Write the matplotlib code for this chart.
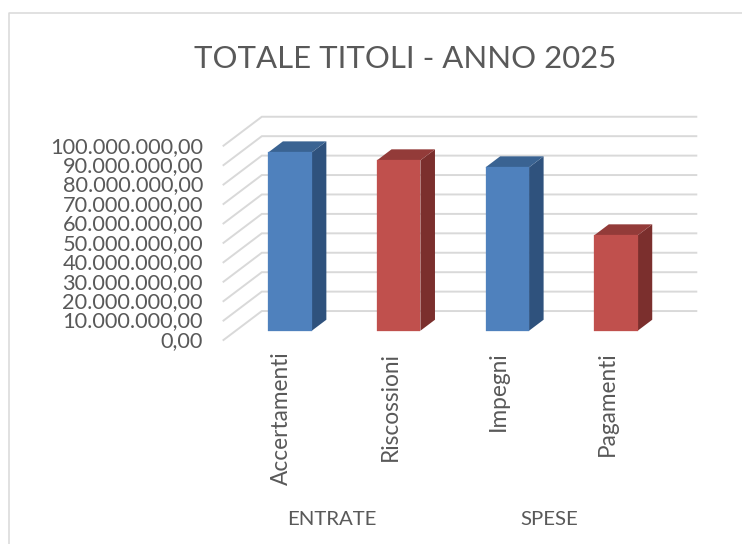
import matplotlib
matplotlib.use('Agg')
import matplotlib.pyplot as plt
from matplotlib.lines import Line2D
from matplotlib.ticker import FuncFormatter
from matplotlib.transforms import ScaledTranslation

plt.rcParams['font.family'] = ['Lato', 'DejaVu Sans']

# Data
categories = ['Accertamenti', 'Riscossioni', 'Impegni', 'Pagamenti']
values = [91800000, 87700000, 84100000, 49100000]
groups = ['ENTRATE', 'SPESE']
y_ticks = [0, 10000000, 20000000, 30000000, 40000000, 50000000,
           60000000, 70000000, 80000000, 90000000, 100000000]
title = 'TOTALE TITOLI - ANNO 2025'

# Colours: front, side, top
blue = ('#4F81BD', '#2F527D', '#3A6392')
red = ('#C0504D', '#7B2F2D', '#933B39')
bar_colors = [blue, red, blue, red]
text_color = '#595959'
grid_color = '#D9D9D9'

W, H = 742, 544

# 3D look: how far the back wall is shifted from the front plane (data units)
DEPTH_X = 0.3527
DEPTH_Y = 14900000
BAR_WIDTH = 0.4
BAR_FRONT = 0.32
BAR_BACK = 0.70


def shift(x, y, d):
    return x + d * DEPTH_X, y + d * DEPTH_Y


fig = plt.figure(figsize=(W / 100, H / 100), dpi=100)
ax = fig.add_axes([223.5 / W, (H - 340) / H, 434.5 / W, 194.3 / H])
ax.set_xlim(0, len(categories))
ax.set_ylim(0, 100000000)
for s in ax.spines.values():
    s.set_visible(False)
ax.patch.set_alpha(0)

# Chart border, runs off the right and bottom of the picture
fig.add_artist(Line2D([W + 5, 9, 9], [H - 13, H - 13, -5], transform=None,
                      color=grid_color, lw=1.1))

# Walls
for v in y_ticks:
    xb, yb = shift(0, v, 1)
    ax.plot([0, xb, len(categories) + DEPTH_X], [v, yb, yb], color=grid_color,
            lw=1.4, clip_on=False, zorder=1, solid_joinstyle='miter')

# Bars
for i, v in enumerate(values):
    front, side, top = bar_colors[i]
    x0 = i + 0.5 - BAR_WIDTH / 2
    x1 = i + 0.5 + BAR_WIDTH / 2
    a = shift(x0, 0, BAR_FRONT)
    b = shift(x1, 0, BAR_FRONT)
    c = shift(x1, v, BAR_FRONT)
    d = shift(x0, v, BAR_FRONT)
    e = shift(x1, 0, BAR_BACK)
    f = shift(x1, v, BAR_BACK)
    g = shift(x0, v, BAR_BACK)
    ax.fill(*zip(b, e, f, c), color=side, lw=0, clip_on=False, zorder=3)
    ax.fill(*zip(d, c, f, g), color=top, lw=0, clip_on=False, zorder=3)
    ax.fill(*zip(a, b, c, d), facecolor=front, edgecolor=front, lw=0.2,
            clip_on=False, zorder=4)

# Axis labels
ax.set_yticks(y_ticks)
ax.yaxis.set_major_formatter(FuncFormatter(
    lambda v, p: f'{v:,.2f}'.replace(',', 'X').replace('.', ',').replace('X', '.')))
ax.tick_params(axis='y', length=0, pad=14.8, labelsize=15.7, labelcolor=text_color)
ax.set_xticks([i + 0.5 for i in range(len(categories))])
ax.set_xticklabels(categories, rotation=90)
ax.tick_params(axis='x', length=0, pad=8.5, labelsize=16.3, labelcolor=text_color)

# Nudge tick labels to sit where the reference has them
for lab in ax.get_xticklabels():
    lab.set_transform(lab.get_transform() + ScaledTranslation(3.5 / 100, 0, fig.dpi_scale_trans))
for lab in ax.get_yticklabels():
    lab.set_transform(lab.get_transform() + ScaledTranslation(0, 1 / 100, fig.dpi_scale_trans))

for i, g in enumerate(groups):
    ax.annotate(g, xy=(2 * i + 1, 0), xycoords=('data', 'axes fraction'),
                xytext=(0, -129.5), textcoords='offset points', ha='center', va='center',
                fontsize=14.7, color=text_color)

fig.text(405 / W, 1 - 59 / H, title, ha='center', va='center', fontsize=22.4, color=text_color)

fig.savefig('out.png', dpi=100)
